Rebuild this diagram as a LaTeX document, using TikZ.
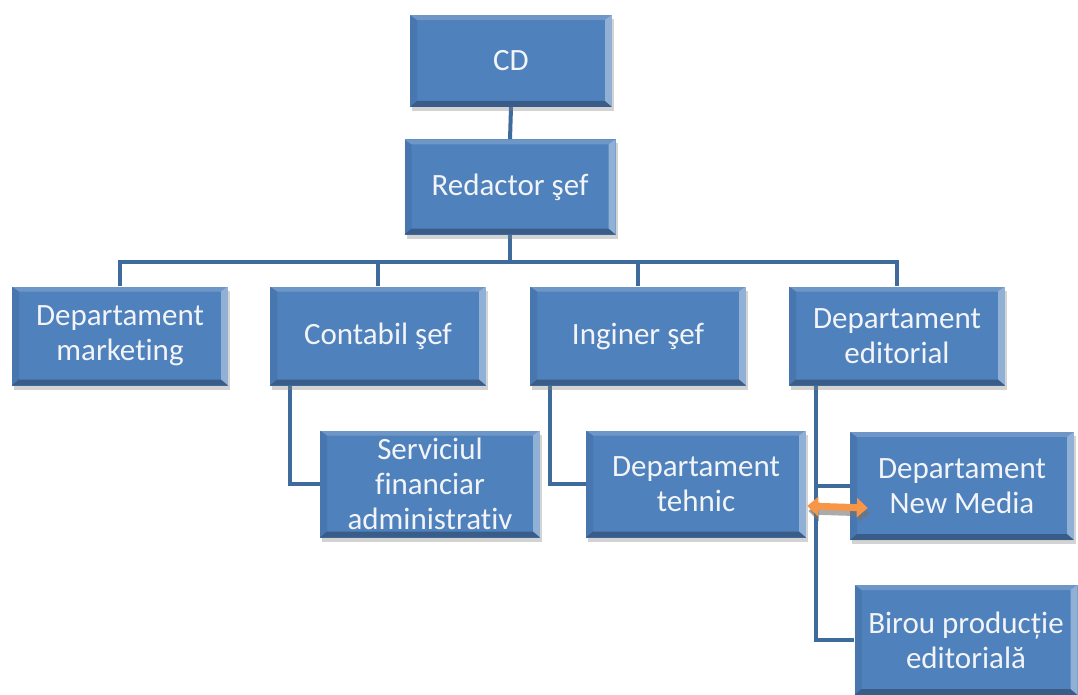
\documentclass[tikz,border=0pt]{standalone}
\usepackage{fontspec}
\setmainfont{Carlito}[Ligatures=NoCommon]
\usetikzlibrary{shadows,arrows.meta,calc,backgrounds}
\definecolor{boxblue}{HTML}{4F81BD}
\definecolor{linkblue}{HTML}{3E6B9C}
\definecolor{txtwhite}{HTML}{F2F4F7}
\definecolor{orng}{HTML}{F79646}
\newcommand\bevelpic{%
  \coordinate (bNE) at (path picture bounding box.north east);
  \coordinate (bNW) at (path picture bounding box.north west);
  \coordinate (bSE) at (path picture bounding box.south east);
  \coordinate (bSW) at (path picture bounding box.south west);
  \fill[white,opacity=0.18] (bNW) -- (bNE) -- ($(bNE)+(-7pt,-5pt)$) -- ($(bNW)+(7pt,-5pt)$) -- cycle;
  \fill[white,opacity=0.38] (bNE) -- (bSE) -- ($(bSE)+(-7pt,6pt)$) -- ($(bNE)+(-7pt,-5pt)$) -- cycle;
  \fill[black,opacity=0.28] (bSW) -- (bSE) -- ($(bSE)+(-7pt,6pt)$) -- ($(bSW)+(7pt,6pt)$) -- cycle;
  \fill[black,opacity=0.08] (bNW) -- (bSW) -- ($(bSW)+(7pt,6pt)$) -- ($(bNW)+(7pt,-5pt)$) -- cycle;
}
\tikzset{
  orgbox/.style 2 args={fill=boxblue, text=txtwhite, inner sep=0pt,
    minimum width=#1, minimum height=#2, align=center,
    font=\fontsize{31}{35}\selectfont,
    drop shadow={shadow xshift=2pt, shadow yshift=-4pt, opacity=0.35},
    path picture={\bevelpic}},
  link/.style={draw=linkblue, line width=4pt, line join=miter},
  dblarrow/.style={draw=orng, line width=7pt,
    {Triangle[width=19pt,length=11pt]}-{Triangle[width=19pt,length=11pt]}},
}
\begin{document}
\begin{tikzpicture}[x=1pt,y=-1pt]
  \useasboundingbox (0,0) rectangle (1078,695);
  \clip (0,0) rectangle (1078,695);
  \coordinate (bus) at (510,262);
  \node[orgbox={202pt}{92pt}] (cd) at (511,61) {CD};
  \node[orgbox={211pt}{95pt}] (red) at (510,187) {Redactor şef};
  \node[orgbox={216pt}{99pt}] (mkt) at (120,336) {Departament\\marketing};
  \node[orgbox={216pt}{99pt}] (cont) at (378,336) {Contabil şef};
  \node[orgbox={216pt}{99pt}] (ing) at (638,336) {Inginer şef};
  \node[orgbox={216pt}{99pt}] (edit) at (897,336) {Departament\\editorial};
  \node[orgbox={220pt}{107pt}] (serv) at (430,484) {Serviciul\\financiar\\administrativ};
  \node[orgbox={220pt}{107pt}] (teh) at (696,484) {Departament\\tehnic};
  \node[orgbox={224pt}{108pt}] (nm) at (962,486) {Departament\\New Media};
  \node[orgbox={223pt}{110pt}] (bir) at (966,640) {Birou producție\\editorială};
  \begin{scope}[on background layer]
    \draw[link] (cd.south) -- (red.north);
    \draw[link] (red.south) -- (bus);
    \draw[link] (mkt.north) |- (bus) -| (edit.north);
    \draw[link] (cont.north) -- (cont.north |- bus);
    \draw[link] (ing.north) -- (ing.north |- bus);
    \draw[link] ([xshift=20pt]cont.south west) |- (serv.west);
    \draw[link] ([xshift=20pt]ing.south west) |- (teh.west);
    \draw[link] ([xshift=27pt]edit.south west) |- (nm.west);
    \draw[link] ([xshift=27pt]edit.south west) |- (bir.west);
  \end{scope}
  % orange double arrow
  \draw[dblarrow, draw=black!55, opacity=0.6] ([xshift=2pt,yshift=-27pt]teh.east) -- ([xshift=20pt,yshift=-27pt]nm.west);
  \draw[dblarrow] ([xshift=1pt,yshift=-22pt]teh.east) -- ([xshift=18pt,yshift=-22pt]nm.west);
\end{tikzpicture}
\end{document}
